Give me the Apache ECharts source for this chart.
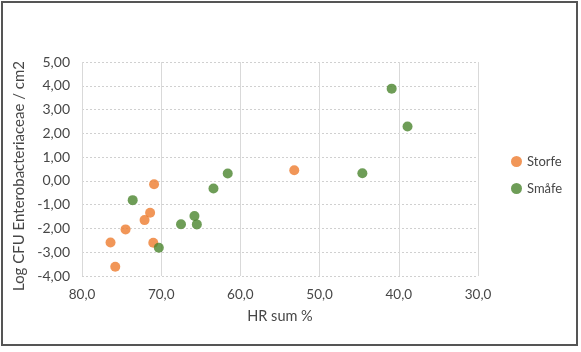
<!DOCTYPE html>
<html>
<head>
<meta charset="utf-8">
<script src="https://cdn.jsdelivr.net/npm/echarts@6/dist/echarts.min.js"></script>
<style>
    html, body { margin: 0; padding: 0; background: #fff; }
    #chart { width: 581px; height: 352px; }
</style>
</head>
<body>
<div id="chart"></div>
<script>
// HR sum % (x) and log CFU (y) per sample
const storfeX = [70.9, 71.4, 72.1, 74.5, 76.4, 71.0, 75.8, 53.2];
const storfeY = [-0.14, -1.34, -1.65, -2.04, -2.59, -2.60, -3.61, 0.45];
const smafeX = [73.6, 70.3, 67.5, 65.8, 65.5, 63.4, 61.6, 40.9, 38.9, 44.6];
const smafeY = [-0.81, -2.81, -1.82, -1.48, -1.83, -0.32, 0.31, 3.88, 2.29, 0.32];

const seriesNames = ['Storfe', 'Småfe'];
const xTitle = 'HR sum %';
const yTitle = 'Log CFU Enterobacteriaceae / cm2';

const font = 'Lato, "Open Sans", sans-serif';
const textColor = '#474747';

function pairs(xs, ys) {
    return xs.map((x, i) => [x, ys[i]]);
}

const chart = echarts.init(document.getElementById('chart'));
chart.setOption({
    animation: false,
    textStyle: { fontFamily: font },
    graphic: [{
        type: 'rect',
        shape: { x: 2, y: 2, width: 575, height: 343 },
        style: { fill: 'none', stroke: '#555', lineWidth: 2 },
        silent: true
    }],
    grid: { left: 82, right: 103, top: 62, bottom: 76 },
    legend: {
        orient: 'vertical',
        left: 506,
        top: 150,
        itemWidth: 11,
        itemHeight: 11,
        itemGap: 14,
        icon: 'circle',
        textStyle: { fontFamily: font, fontSize: 13, color: textColor }
    },
    xAxis: {
        type: 'value',
        inverse: true,
        min: 30,
        max: 80,
        interval: 10,
        name: xTitle,
        nameLocation: 'middle',
        nameGap: 33,
        nameTextStyle: { fontFamily: font, fontSize: 14.5, color: textColor },
        axisLine: { show: false },
        axisTick: { show: false },
        axisLabel: {
            margin: 12,
            fontSize: 13.5,
            color: textColor,
            formatter: v => v.toFixed(1).replace('.', ',')
        },
        splitLine: { show: true, lineStyle: { color: '#d9d9d9', width: 1 } }
    },
    yAxis: {
        type: 'value',
        min: -4,
        max: 5,
        interval: 1,
        name: yTitle,
        nameLocation: 'middle',
        nameGap: 54,
        nameTextStyle: { fontFamily: font, fontSize: 15, color: textColor, padding: [0, 14, 0, 0] },
        axisLine: { show: false },
        axisTick: { show: false },
        axisLabel: {
            margin: 12,
            fontSize: 14,
            color: textColor,
            formatter: v => v.toFixed(2).replace('.', ',')
        },
        splitLine: { show: true, lineStyle: { color: '#d0d0d0', width: 1, type: [2, 2] } }
    },
    series: [
        {
            name: seriesNames[0],
            type: 'scatter',
            symbolSize: 10,
            itemStyle: { color: '#EE7C2E' },
            data: pairs(storfeX, storfeY)
        },
        {
            name: seriesNames[1],
            type: 'scatter',
            symbolSize: 10,
            itemStyle: { color: '#4A852D' },
            data: pairs(smafeX, smafeY)
        }
    ]
});
</script>
</body>
</html>
